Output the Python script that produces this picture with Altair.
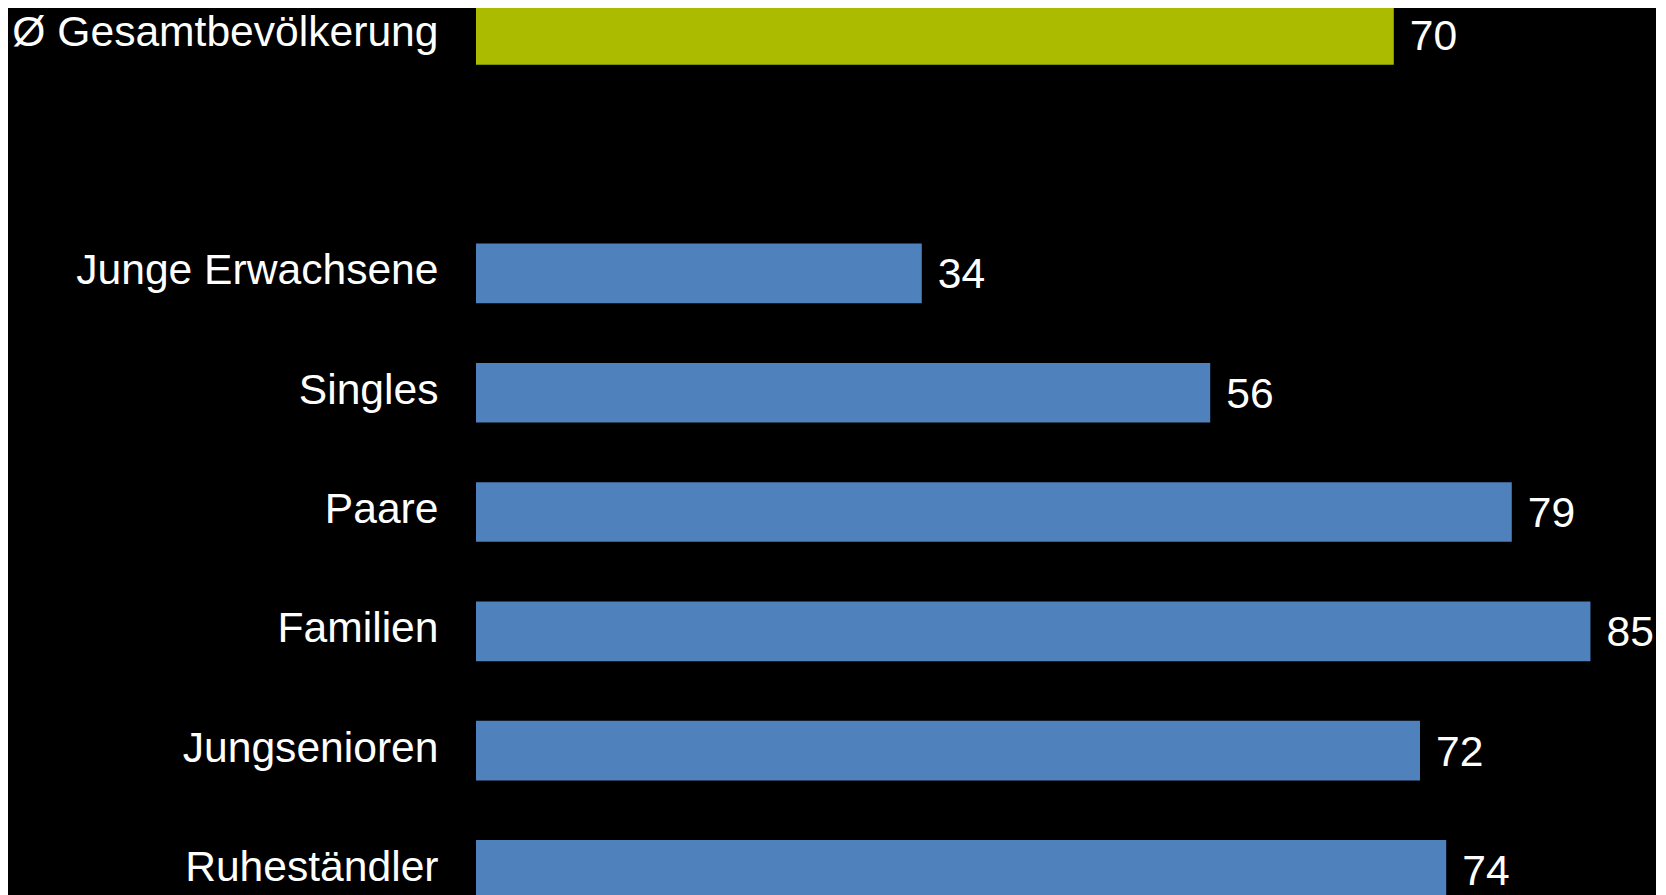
import altair as alt
import pandas as pd

categories = ["Ø Gesamtbevölkerung", "Junge Erwachsene", "Singles", "Paare",
              "Familien", "Jungsenioren", "Ruheständler"]
values = [70, 34, 56, 79, 85, 72, 74]
groups = ["Gesamt", "Gruppe", "Gruppe", "Gruppe", "Gruppe", "Gruppe", "Gruppe"]

# order of rows on the y axis, including one empty spacer row
row_order = ["Ø Gesamtbevölkerung", " ", "Junge Erwachsene", "Singles", "Paare",
             "Familien", "Jungsenioren", "Ruheständler"]

df = pd.DataFrame({"Kategorie": categories, "Wert": values, "Gruppe": groups})

FONT = "Liberation Sans, Arial, Helvetica, sans-serif"

y_enc = alt.Y(
    "Kategorie:N",
    sort=row_order,
    scale=alt.Scale(domain=row_order, range=[-3, 891.75], paddingInner=0.5, paddingOuter=0),
    axis=alt.Axis(
        title=None, ticks=False, domain=False, grid=False,
        labelFontSize=42.6, labelColor="white", labelFont=FONT,
        labelPadding=38, labelBaseline="alphabetic", labelOffset=11,
        labelLimit=1000,
    ),
)
x_scale = alt.Scale(domain=[0, 90], nice=False, zero=True)

bars = alt.Chart(df).mark_bar().encode(
    x=alt.X("Wert:Q", scale=x_scale, axis=None),
    y=y_enc,
    color=alt.Color("Gruppe:N",
                    scale=alt.Scale(domain=["Gesamt", "Gruppe"], range=["#ABBB00", "#4F81BD"]),
                    legend=None),
)

labels = alt.Chart(df).mark_text(
    align="left", baseline="alphabetic", dx=16, dy=15,
    fontSize=42.6, color="white", font=FONT,
).encode(
    x=alt.X("Wert:Q", scale=x_scale, axis=None),
    y=alt.Y("Kategorie:N", sort=row_order,
            scale=alt.Scale(domain=row_order, range=[-3, 891.75], paddingInner=0.5, paddingOuter=0)),
    text=alt.Text("Wert:Q"),
)

chart = alt.layer(bars, labels).properties(
    width=1180,
    height=890,
    background="black",
    padding={"left": 468, "top": 0, "right": 0, "bottom": 0},
    autosize=alt.AutoSizeParams(type="none"),
).configure_view(stroke=None)

chart.save("out.html", embed_options={"renderer": "svg", "actions": False})
